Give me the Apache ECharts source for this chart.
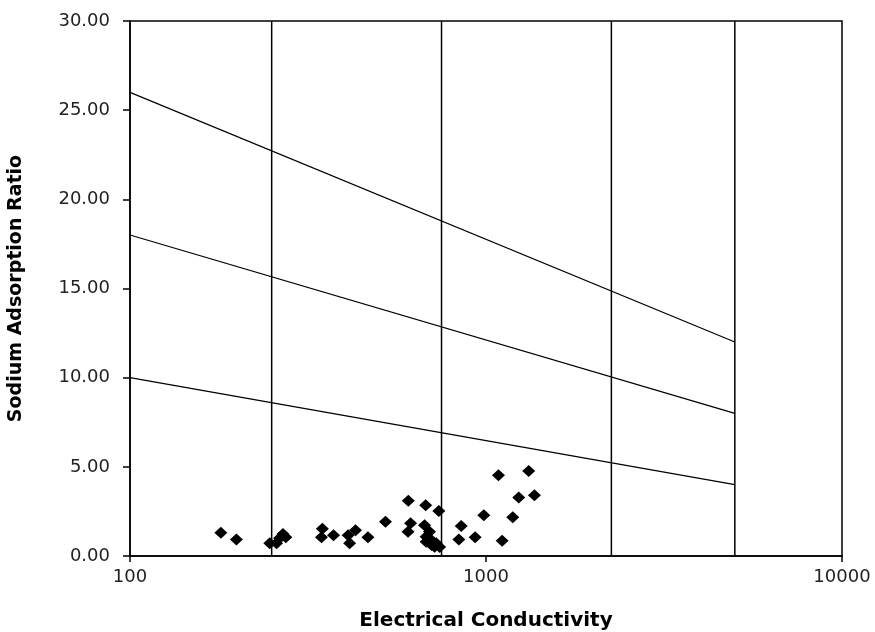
<!DOCTYPE html>
<html>
<head>
<meta charset="utf-8">
<script src="https://cdn.jsdelivr.net/npm/echarts@6/dist/echarts.min.js"></script>
<style>
  html, body { margin: 0; padding: 0; background: #fff; }
  #main { width: 875px; height: 632px; }
</style>
</head>
<body>
<div id="main"></div>
<script>
// sample points: electrical conductivity vs sodium adsorption ratio
var ecValues = [180, 199, 247, 258, 263, 269, 274, 345, 347, 373, 410, 414, 430, 466,
  522, 604, 605, 614, 672, 677, 679, 679, 694, 702, 703, 717, 725, 737, 741,
  839, 852, 932, 986, 1084, 1110, 1189, 1236, 1318, 1368];
var sarValues = [1.30, 0.93, 0.71, 0.71, 0.99, 1.23, 1.05, 1.05, 1.53, 1.17, 1.17, 0.71, 1.45, 1.05,
  1.92, 1.36, 3.10, 1.83, 1.73, 2.85, 1.08, 0.80, 1.36, 0.90, 0.62, 0.52, 0.71, 2.52, 0.50,
  0.93, 1.68, 1.05, 2.29, 4.53, 0.86, 2.17, 3.28, 4.77, 3.41];

// salinity class boundaries (vertical lines)
var classBounds = [250, 750, 2250, 5000];
// sodium hazard boundaries: SAR at EC=100 and EC=5000
var hazardEc = [100, 5000];
var hazardHigh = [26, 12];
var hazardMid = [18, 8];
var hazardLow = [10, 4];

var myChart = echarts.init(document.getElementById('main'), null, { renderer: 'canvas' });

var points = ecValues.map(function (v, i) { return [v, sarValues[i]]; });

var series = [];

classBounds.forEach(function (b) {
  series.push({
    type: 'line',
    data: [[b, 0], [b, 30]],
    symbol: 'none',
    lineStyle: { color: '#000', width: 1.5 },
    silent: true
  });
});

[hazardHigh, hazardMid, hazardLow].forEach(function (h) {
  series.push({
    type: 'line',
    data: hazardEc.map(function (x, i) { return [x, h[i]]; }),
    symbol: 'none',
    lineStyle: { color: '#000', width: 1.2 },
    silent: true
  });
});

series.push({
  type: 'scatter',
  data: points,
  symbol: 'diamond',
  symbolSize: [13, 12],
  itemStyle: { color: '#000', opacity: 1 },
  z: 5
});

var option = {
  animation: false,
  backgroundColor: '#fff',
  grid: { left: 130, right: 33, top: 21, bottom: 76, containLabel: false, outerBoundsMode: 'none' },
  xAxis: {
    type: 'log',
    logBase: 10,
    min: 100,
    max: 10000,
    name: 'Electrical Conductivity',
    nameLocation: 'middle',
    nameGap: 55,
    nameTextStyle: { fontFamily: 'DejaVu Sans', fontWeight: 'bold', fontSize: 20, color: '#000' },
    axisLine: { lineStyle: { color: '#000', width: 1.5 } },
    axisTick: { show: true, inside: false, length: 6, lineStyle: { color: '#000', width: 1.5 } },
    minorTick: { show: false },
    axisLabel: {
      margin: 12,
      fontFamily: 'DejaVu Sans',
      fontSize: 18,
      color: '#222',
      formatter: function (v) { return String(Math.round(v)); }
    },
    splitLine: { show: false }
  },
  yAxis: {
    type: 'value',
    min: 0,
    max: 30,
    interval: 5,
    name: 'Sodium Adsorption Ratio',
    nameLocation: 'middle',
    nameGap: 104,
    nameTextStyle: { fontFamily: 'DejaVu Sans', fontWeight: 'bold', fontSize: 19, color: '#000' },
    axisLine: { show: true, lineStyle: { color: '#000', width: 1.5 } },
    axisTick: { show: true, inside: false, length: 7, lineStyle: { color: '#000', width: 1.5 } },
    axisLabel: {
      margin: 20,
      fontFamily: 'DejaVu Sans',
      fontSize: 18,
      color: '#222',
      formatter: function (v) { return v.toFixed(2); }
    },
    splitLine: { show: false }
  },
  graphic: [{
    type: 'rect',
    shape: { x: 130, y: 21, width: 712, height: 535 },
    style: { fill: 'none', stroke: '#000', lineWidth: 1.5 },
    silent: true,
    z: 10
  }],
  series: series
};

myChart.setOption(option);
window.addEventListener('resize', myChart.resize);
</script>
</body>
</html>
